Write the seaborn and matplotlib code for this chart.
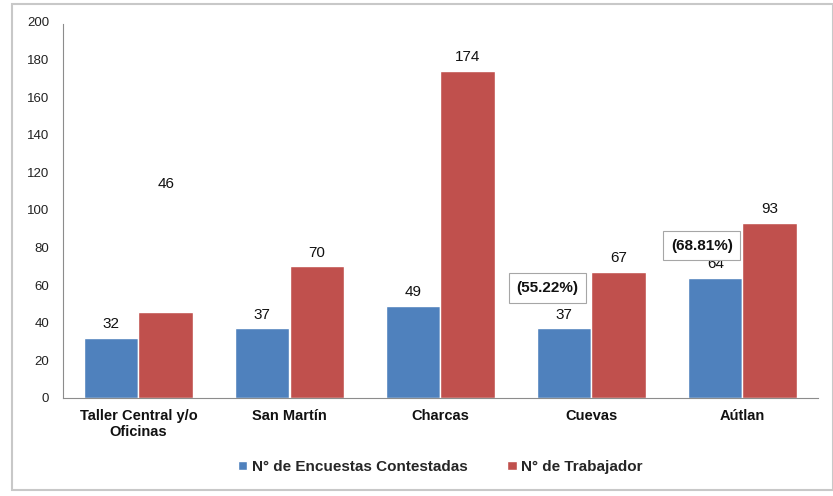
import numpy as np
import pandas as pd
import matplotlib
matplotlib.use("Agg")
import matplotlib.pyplot as plt
import seaborn as sns
from matplotlib.patches import Rectangle

# -------------------------------------------------
# data
# -------------------------------------------------
categories = ["Taller Central y/o\nOficinas", "San Martín", "Charcas", "Cuevas", "Aútlan"]
encuestas = [32, 37, 49, 37, 64]
trabajador = [46, 70, 174, 67, 93]
series_names = ["N° de Encuestas Contestadas", "N° de Trabajador"]
yticks = [0, 20, 40, 60, 80, 100, 120, 140, 160, 180, 200]
pct_labels = ["(55.22%)", "(68.81%)"]
pct_cats = ["Cuevas", "Aútlan"]

colors = ["#4F81BD", "#C0504D"]

df = pd.DataFrame({
    "cat": categories * 2,
    "serie": [series_names[0]] * len(categories) + [series_names[1]] * len(categories),
    "val": encuestas + trabajador,
})

sns.set_style("white")
plt.rcParams["font.family"] = ["Liberation Sans", "DejaVu Sans"]

fig = plt.figure(figsize=(8.33, 4.96), dpi=100)
ax = fig.add_axes([63 / 833, 1 - 398 / 496, (818 - 63) / 833, (398 - 22) / 496])

sns.barplot(data=df, x="cat", y="val", hue="serie", palette=colors,
            width=0.72, saturation=1, ax=ax, legend=True)

ax.set_ylim(0, 200)
ax.set_xlim(-0.5, len(categories) - 0.5)
ax.set_yticks(yticks)
ax.set_yticklabels([str(t) for t in yticks], fontsize=9.5, color="#222222")
ax.tick_params(axis="y", length=0, pad=10)
ax.tick_params(axis="x", length=0, pad=8)
ax.set_xticks(range(len(categories)))
ax.set_xticklabels(categories, fontsize=10.5, fontweight="bold", color="#111111")
ax.set_xlabel("")
ax.set_ylabel("")
for s in ["top", "right"]:
    ax.spines[s].set_visible(False)
ax.spines["left"].set_color("#8c8c8c")
ax.spines["bottom"].set_color("#8c8c8c")
ax.spines["left"].set_bounds(0, 199)

# value labels above bars (the first red one sits much higher in the original)
raised = {(1, 0): 82}
for hi, cont in enumerate(ax.containers):
    for ci, bar in enumerate(cont):
        h = bar.get_height()
        ax.annotate(f"{int(h)}", (bar.get_x() + bar.get_width() / 2, h),
                    xytext=(0, 10 + raised.get((hi, ci), 0)),
                    textcoords="offset points", ha="center", va="center",
                    fontsize=11, color="#111111")

# percentage boxes
for lab, cat, dx, dy in zip(pct_labels, pct_cats, [-0.29, -0.27], [58.5, 81]):
    xi = categories.index(cat)
    ax.text(xi + dx, dy, lab, ha="center", va="center", fontsize=11,
            fontweight="bold", color="#111111",
            bbox=dict(boxstyle="square,pad=0.5", fc="white", ec="#a6a6a6", lw=0.8))

leg = ax.legend(loc="center", bbox_to_anchor=(0.5, (398 - 467) / (398 - 22)),
                ncol=2, frameon=False, handlelength=0.6, handleheight=0.6,
                handletextpad=0.3, columnspacing=2.6,
                prop={"size": 11, "weight": "bold"})

# screenshot frame / shadow
fig.add_artist(Rectangle((12 / 833, 6 / 496), (833 - 12) / 833, (496 - 6 - 4) / 496,
                         transform=fig.transFigure, fill=False, ec="#c8c8c8", lw=1.5))

fig.savefig("out.png", dpi=100)
